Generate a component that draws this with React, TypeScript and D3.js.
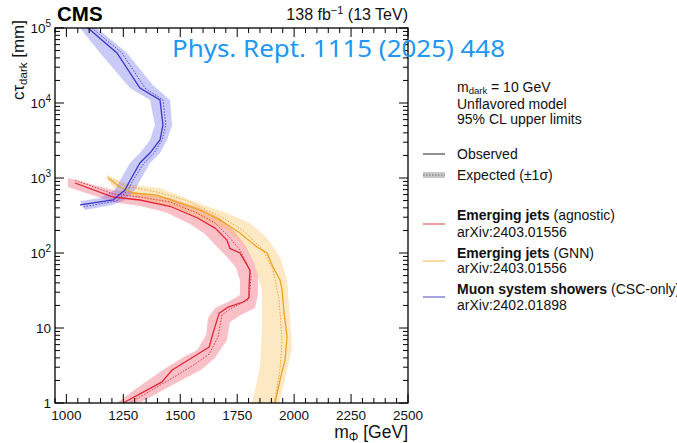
import React from "react";
import * as d3 from "d3";

// ---------- data (mass in GeV, c tau in mm) ----------
const massTicks = [1000, 1250, 1500, 1750, 2000, 2250, 2500];
const ctTicks = [1, 10, 100, 1000, 10000, 100000];
const ctTickExp = ["", "", "2", "3", "4", "5"];
const ctTickBase = ["1", "10", "10", "10", "10", "10"];

type P = [number, number];

// Emerging jets (agnostic) - red
const redObs: P[] = [
  [1038, 858], [1205, 558], [1323, 509], [1455, 420], [1574, 295], [1653, 215],
  [1705, 149], [1718, 115], [1762, 100], [1806, 59.6], [1802, 35.2], [1802, 25.1],
  [1776, 22.2], [1710, 19.0], [1671, 15.8], [1644, 8.58], [1627, 5.58], [1592, 4.78],
  [1486, 3.02], [1464, 2.75], [1420, 1.91], [1249, 1],
];
const redExp: P[] = [
  [1038, 940], [1205, 612], [1323, 558], [1455, 479], [1574, 341], [1653, 251],
  [1710, 169], [1762, 110], [1789, 75.9], [1811, 50.9], [1806, 32.1], [1797, 23.6],
  [1727, 18.5], [1683, 14.9], [1666, 7.59], [1627, 4.5], [1565, 3.31], [1473, 2.22],
  [1376, 1.49], [1275, 1],
];
const redBandOuter: P[] = [
  [1007, 1000], [1205, 692], [1323, 631], [1455, 541], [1587, 398], [1675, 293],
  [1740, 191], [1784, 128], [1819, 80.7], [1841, 50.9], [1841, 27.5], [1828, 18.5],
  [1766, 14.9], [1718, 12.0], [1705, 6.92], [1652, 3.98], [1590, 2.75], [1490, 1.91],
  [1385, 1.28], [1320, 1],
];
const redBandInner: P[] = [
  [1007, 759], [1205, 479], [1323, 424], [1433, 352], [1543, 244], [1609, 179],
  [1666, 117], [1710, 85.8], [1745, 63.1], [1762, 43.7], [1762, 27.5], [1710, 22.2],
  [1653, 18.5], [1622, 13.6], [1614, 8.07], [1574, 5.09], [1515, 4.11], [1424, 2.75],
  [1310, 1.58], [1222, 1],
];

// Emerging jets (GNN) - orange
const orangeObs: P[] = [
  [1183, 1000], [1235, 759], [1292, 631], [1398, 593], [1499, 464], [1587, 374],
  [1675, 275], [1762, 185], [1837, 120], [1881, 100], [1907, 65], [1938, 43.7],
  [1947, 32.1], [1956, 15.8], [1969, 7.59], [1960, 3.74], [1938, 2.03], [1916, 1],
];
const orangeExp: P[] = [
  [1183, 1063], [1257, 782], [1398, 650], [1521, 509], [1675, 311], [1784, 191],
  [1863, 110], [1907, 59.3], [1934, 23.6], [1947, 6.92], [1938, 2.75], [1912, 1],
];
const orangeBandOuter: P[] = [
  [1170, 1063], [1292, 807], [1411, 736], [1543, 509], [1705, 341], [1806, 251],
  [1881, 158], [1938, 88.5], [1969, 43.7], [1991, 5.58], [1960, 2.03], [1934, 1],
];
const orangeBandInner: P[] = [
  [1191, 858], [1222, 650], [1468, 410], [1600, 275], [1705, 203], [1771, 136],
  [1819, 80.7], [1841, 47.9], [1859, 32.1], [1859, 9.4], [1850, 3.02], [1828, 1.49],
  [1815, 1],
];

// Muon system showers (CSC-only) - blue
const blueObs: P[] = [
  [1095, 100000], [1222, 46400], [1323, 15850], [1411, 11000], [1424, 5090],
  [1411, 3210], [1367, 2150], [1323, 1585], [1288, 1030], [1257, 692], [1205, 509],
  [1060, 437],
];
const blueExp: P[] = [
  [1112, 100000], [1244, 46400], [1345, 15850], [1424, 11000], [1437, 5090],
  [1420, 3210], [1385, 2150], [1341, 1585], [1301, 1030], [1270, 692], [1222, 495],
  [1069, 410],
];
const blueBandLeft: P[] = [
  [1060, 100000], [1148, 46400], [1279, 15850], [1367, 11000], [1389, 5090],
  [1367, 3210], [1323, 2150], [1279, 1585], [1244, 1030], [1213, 692], [1148, 541],
  [1060, 490],
];
const blueBandRight: P[] = [
  [1134, 100000], [1266, 46400], [1380, 17300], [1455, 11000], [1464, 5090],
  [1442, 3210], [1411, 2150], [1367, 1585], [1332, 1030], [1301, 692], [1257, 509],
  [1200, 437], [1082, 373],
];

const series = [
  { name: "red", obs: redObs, exp: redExp, bandA: redBandOuter, bandB: redBandInner,
    line: "#e42536", band: "rgba(236,60,80,0.32)" },
  { name: "orange", obs: orangeObs, exp: orangeExp, bandA: orangeBandOuter, bandB: orangeBandInner,
    line: "#eea21f", band: "rgba(250,180,60,0.30)" },
  { name: "blue", obs: blueObs, exp: blueExp, bandA: blueBandLeft, bandB: blueBandRight,
    line: "#3a35c8", band: "rgba(90,90,235,0.32)" },
];

const W = 677, H = 443;
const L = 55, R = 408, T = 28, B = 403;
const FONT = "'Liberation Sans', Arial, Helvetica, sans-serif";

export default function App() {
  const x = d3.scaleLinear().domain([950, 2500]).range([L, R]);
  const y = d3.scaleLog().domain([1, 100000]).range([B, T]);
  const line = d3.line<P>().x((d) => x(d[0])).y((d) => y(d[1]));

  const minorX = d3.range(950, 2501, 50).filter((v) => v % 250 !== 0);
  const minorY: number[] = [];
  for (let e = 0; e < 5; e++) for (let k = 2; k <= 9; k++) minorY.push(k * Math.pow(10, e));

  const bandPath = (a: P[], b: P[]) => line(a.concat(b.slice().reverse()))! + "Z";

  return (
    <svg width={W} height={H} style={{ position: "absolute", left: 0, top: 0, background: "#fff" }}
      fontFamily={FONT}>
      <defs>
        <clipPath id="plot"><rect x={L} y={T} width={R - L} height={B - T} /></clipPath>
      </defs>
      <g clipPath="url(#plot)">
        {series.map((s) => (
          <path key={s.name + "b"} d={bandPath(s.bandA, s.bandB)} fill={s.band} stroke="none" />
        ))}
        {series.map((s) => (
          <path key={s.name + "e"} d={line(s.exp)!} fill="none" stroke={s.line} strokeWidth={0.9}
            strokeDasharray="1.5,1.5" />
        ))}
        {series.map((s) => (
          <path key={s.name + "o"} d={line(s.obs)!} fill="none" stroke={s.line} strokeWidth={1.3} />
        ))}
      </g>
      {/* frame */}
      <rect x={L} y={T} width={R - L} height={B - T} fill="none" stroke="#000" strokeWidth={1.3} />
      {/* x ticks bottom/top */}
      {massTicks.map((v) => (
        <g key={"mx" + v}>
          <line x1={x(v)} x2={x(v)} y1={B} y2={B - 9} stroke="#000" />
          <line x1={x(v)} x2={x(v)} y1={T} y2={T + 9} stroke="#000" />
          <text x={x(v)} y={B + 17} fontSize={13.5} textAnchor="middle" fill="#111">{v}</text>
        </g>
      ))}
      {minorX.map((v) => (
        <g key={"nx" + v}>
          <line x1={x(v)} x2={x(v)} y1={B} y2={B - 5} stroke="#000" />
          <line x1={x(v)} x2={x(v)} y1={T} y2={T + 5} stroke="#000" />
        </g>
      ))}
      {ctTicks.map((v, i) => (
        <g key={"my" + v}>
          <line x1={L} x2={L + 9} y1={y(v)} y2={y(v)} stroke="#000" />
          <line x1={R} x2={R - 9} y1={y(v)} y2={y(v)} stroke="#000" />
          <text x={L - 4} y={y(v) + 5} fontSize={13.5} textAnchor="end" fill="#111">
            {ctTickBase[i]}
            {ctTickExp[i] && <tspan dy={-6} fontSize={10}>{ctTickExp[i]}</tspan>}
          </text>
        </g>
      ))}
      {minorY.map((v) => (
        <g key={"ny" + v}>
          <line x1={L} x2={L + 5} y1={y(v)} y2={y(v)} stroke="#000" />
          <line x1={R} x2={R - 5} y1={y(v)} y2={y(v)} stroke="#000" />
        </g>
      ))}
      {/* axis titles */}
      <text x={R} y={438} fontSize={17.5} textAnchor="end" fill="#111">
        m<tspan fontSize={12} dy={3}>Φ</tspan><tspan dy={-3}> [GeV]</tspan>
      </text>
      <text transform={`translate(24,${T - 8}) rotate(-90)`} fontSize={17} textAnchor="end" fill="#111">
        cτ<tspan fontSize={11.5} dy={3}>dark</tspan><tspan dy={-3}> [mm]</tspan>
      </text>
      {/* header */}
      <text x={57} y={21} fontSize={20.5} fontWeight="bold" fill="#000">CMS</text>
      <text x={R} y={20} fontSize={16} textAnchor="end" fill="#111">
        138 fb<tspan fontSize={11} dy={-6}>−1</tspan><tspan dy={6}> (13 TeV)</tspan>
      </text>
      {/* legend */}
      <g fontSize={14} fill="#111">
        <text x={457} y={92}>m<tspan fontSize={9.5} dy={2}>dark</tspan><tspan dy={-2}> = 10 GeV</tspan></text>
        <text x={457} y={109}>Unflavored model</text>
        <text x={457} y={124}>95% CL upper limits</text>

        <line x1={423} x2={445} y1={154} y2={154} stroke="#555" strokeWidth={1.3} />
        <text x={457} y={159}>Observed</text>
        <rect x={423} y={172} width={22} height={6} fill="#c8c8c8" />
        <line x1={423} x2={445} y1={175} y2={175} stroke="#666" strokeWidth={0.9} strokeDasharray="1.5,1.5" />
        <text x={457} y={180}>Expected (±1σ)</text>

        <line x1={423} x2={445} y1={224} y2={224} stroke="#e86a74" strokeWidth={1.3} />
        <text x={457} y={220}><tspan fontWeight="bold">Emerging jets</tspan> (agnostic)</text>
        <text x={457} y={237}>arXiv:2403.01556</text>

        <line x1={423} x2={445} y1={261} y2={261} stroke="#f3c166" strokeWidth={1.3} />
        <text x={457} y={258}><tspan fontWeight="bold">Emerging jets</tspan> (GNN)</text>
        <text x={457} y={273}>arXiv:2403.01556</text>

        <line x1={423} x2={445} y1={297} y2={297} stroke="#7470d4" strokeWidth={1.3} />
        <text x={457} y={294}><tspan fontWeight="bold">Muon system showers</tspan> (CSC-only)</text>
        <text x={457} y={310}>arXiv:2402.01898</text>
      </g>
      {/* overlay reference */}
      <text x={172} y={57} fontSize={24} fill="#2196f3" textLength={333} lengthAdjust="spacingAndGlyphs"
        fontFamily="'Noto Sans', 'Open Sans', sans-serif">
        Phys. Rept. 1115 (2025) 448
      </text>
    </svg>
  );
}
